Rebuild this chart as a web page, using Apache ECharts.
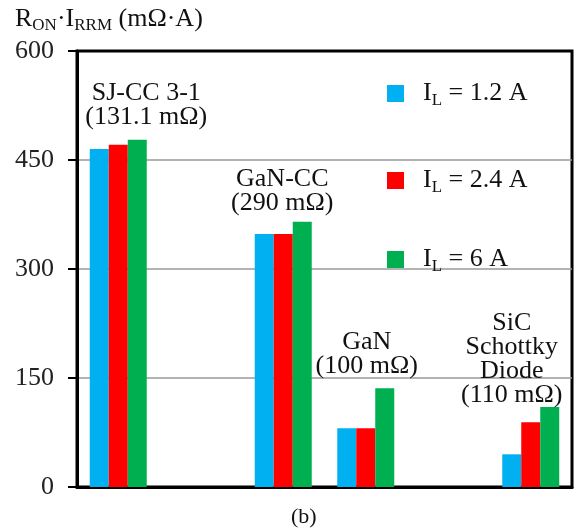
<!DOCTYPE html>
<html>
<head>
<meta charset="utf-8">
<script src="https://cdn.jsdelivr.net/npm/echarts@6/dist/echarts.min.js"></script>
<style>html,body{margin:0;padding:0;background:#fff}#c{width:578px;height:531px}</style>
</head>
<body>
<div id="c"></div>
<script>
// ---- data ----
var categories = ['SJ-CC 3-1', 'gap1', 'GaN-CC', 'GaN', 'gap2', 'SiC Schottky Diode'];
var deviceLabels = ['SJ-CC 3-1\n(131.1 mΩ)', '', 'GaN-CC\n(290 mΩ)', 'GaN\n(100 mΩ)', '', 'SiC\nSchottky\nDiode\n(110 mΩ)'];
var seriesNames = ['I_L = 1.2 A', 'I_L = 2.4 A', 'I_L = 6 A'];
var il12 = [465, null, 348, 81, null, 45];
var il24 = [471, null, 348, 81, null, 89];
var il6  = [478, null, 365, 136, null, 110];
var yTicks = [0, 150, 300, 450, 600];

// ---- presentation ----
var FONT = 'Liberation Serif';
var colors = ['#00b0f0', '#ff0000', '#00b050'];
var labelOffsets = [[9, 10], null, [-20, 7], [-18, 10], null, [-38, 0]];

var rich = {
  a: {fontFamily: FONT, fontSize: 26, fontWeight: 'normal', color: '#111', lineHeight: 26},
  s: {fontFamily: FONT, fontSize: 17, fontWeight: 'normal', color: '#111', lineHeight: 17, padding: [14, 0, 0, 0]}
};
function subText(n) {
  var m = n.match(/^I_L(.*)$/);
  return '{a|I}{s|L}{a|' + m[1] + '}';
}

var chart = echarts.init(document.getElementById('c'), null, {renderer: 'canvas'});
var allSeries = [il12, il24, il6];
var series = allSeries.map(function (vals, i) {
  var s = {
    name: seriesNames[i],
    type: 'bar',
    barWidth: 19,
    barGap: '0%',
    itemStyle: {color: colors[i]},
    data: vals
  };
  if (i === 2) {
    s.data = vals.map(function (v, k) {
      var o = labelOffsets[k];
      if (v == null) return v;
      return {
        value: v,
        label: {
          show: true, position: 'top', distance: o[1], offset: [o[0], 0],
          formatter: deviceLabels[k],
          fontFamily: FONT, fontSize: 26, lineHeight: 24, color: '#111', align: 'center'
        }
      };
    });
  }
  return s;
});

var legendTops = [78, 165, 244];
var legends = seriesNames.map(function (n, i) {
  return {
    data: [n], left: 387, top: legendTops[i], padding: 0,
    itemWidth: 17, itemHeight: 17, itemGap: 0, icon: 'rect',
    formatter: subText,
    textStyle: {padding: [0, 0, 0, 14], rich: rich},
    selectedMode: false
  };
});

chart.setOption({
  animation: false,
  title: [{
    text: '{a|R}{s|ON}{a|·I}{s|RRM}{a| (mΩ·A)}',
    left: 15, top: 6, padding: 0,
    textStyle: {rich: rich}
  }, {
    text: '(b)',
    left: 291, top: 506, padding: 0,
    textStyle: {fontFamily: FONT, fontSize: 22, fontWeight: 'normal', color: '#111'}
  }],
  legend: legends,
  grid: {left: 77, right: 6, top: 51, bottom: 44, show: true, borderColor: '#000', borderWidth: 3},
  xAxis: {
    type: 'category', data: categories,
    axisLabel: {show: false}, axisTick: {show: false},
    axisLine: {lineStyle: {color: '#000', width: 3}}
  },
  yAxis: {
    type: 'value', min: yTicks[0], max: yTicks[yTicks.length - 1], interval: yTicks[1] - yTicks[0],
    axisLine: {show: true, lineStyle: {color: '#000', width: 3}},
    axisTick: {show: true, length: 9, lineStyle: {color: '#000', width: 2}},
    axisLabel: {fontFamily: FONT, fontSize: 26, color: '#222', margin: 23},
    splitLine: {lineStyle: {color: ['#9a9a9a', '#9a9a9a', '#9a9a9a', '#9a9a9a', '#000'], width: 1.5}}
  },
  series: series
});
</script>
</body>
</html>
